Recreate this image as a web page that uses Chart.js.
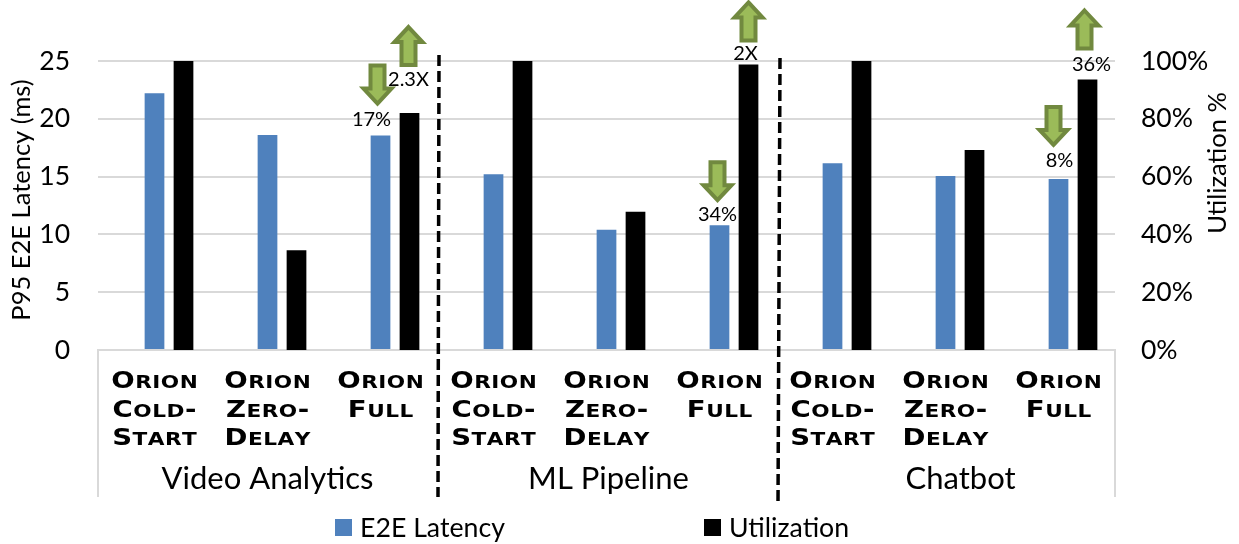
<!DOCTYPE html>
<html><head><meta charset="utf-8">
<style>html,body{margin:0;padding:0;background:#fff}#w{width:1239px;height:544px;position:relative}</style>
<script src="https://cdn.jsdelivr.net/npm/chart.js@4"></script></head>
<body><div id="w"><canvas id="c" width="1239" height="544"></canvas></div>
<script>
const categories=[["Orion","Cold-","Start"],["Orion","Zero-","Delay"],["Orion","Full"],["Orion","Cold-","Start"],["Orion","Zero-","Delay"],["Orion","Full"],["Orion","Cold-","Start"],["Orion","Zero-","Delay"],["Orion","Full"]];
const groups=["Video Analytics","ML Pipeline","Chatbot"];
const latency=[22.2,18.6,18.55,15.2,10.4,10.8,16.15,15.05,14.8];
const utilization=[100,34.5,82,100,47.8,98.8,100,69.2,93.6];
const spacer=[null,null,null,null,null,null,null,null,null];
const latencyNotes=[null,null,"17%",null,null,"34%",null,null,"8%"];
const utilizationNotes=[null,null,"2.3X",null,null,"2X",null,null,"36%"];
const BLUE='#4f81bd',BAR='#000000',GRID='#d9d9d9',TXT='#000000';
const P={l:98,r:1115,t:61,b:350};
const groupShift=[0,2,15];
// [label dx, label dy above bar, arrow dx, arrow tip dy above bar]
const latGeom={2:[-9,16,-3,30],5:[-2,11,-2,23],8:[1,18,-5,32]};
const utilGeom={2:[-1,33,-1,88],5:[-3,11,0,64],8:[4,15,-3,71]};
function arrow(ctx,x,tip,dir){ // dir 1 = points down; -1 = up
  const L=38,hw=14,sw=7,hh=15;
  tip-=dir*2;
  ctx.beginPath();
  ctx.moveTo(x,tip);
  ctx.lineTo(x+hw,tip-dir*hh);
  ctx.lineTo(x+sw,tip-dir*hh);
  ctx.lineTo(x+sw,tip-dir*L);
  ctx.lineTo(x-sw,tip-dir*L);
  ctx.lineTo(x-sw,tip-dir*hh);
  ctx.lineTo(x-hw,tip-dir*hh);
  ctx.closePath();
  ctx.fillStyle='#9bbb59';ctx.strokeStyle='#71893f';ctx.lineWidth=4;ctx.lineJoin='miter';
  ctx.fill();ctx.stroke();
}
function smallCaps(ctx,text,cx,cy){
  const big='bold 23px "DejaVu Sans"',small='bold 18px "DejaVu Sans"',sx=1.2,track=0.5;
  const runs=[...text].map(c=>{const low=c!==c.toUpperCase();return {c:c.toUpperCase(),f:low?small:big};});
  let w=0;runs.forEach(r=>{ctx.font=r.f;r.w=ctx.measureText(r.c).width*sx+track;w+=r.w;});
  let x=cx-(w-track)/2;
  ctx.textAlign='left';ctx.textBaseline='alphabetic';
  runs.forEach(r=>{ctx.save();ctx.translate(x,cy+8);ctx.scale(sx,1);ctx.font=r.f;ctx.fillText(r.c,0,0);ctx.restore();x+=r.w;});
}
const extras={id:'extras',afterDraw(ch){
  const ctx=ch.ctx,x=ch.scales.x,yL=ch.scales.y,yR=ch.scales.y2;
  ctx.save();
  const step=x.getPixelForValue(1)-x.getPixelForValue(0);
  const edge=i=>x.getPixelForValue(i)-step/2;
  ctx.strokeStyle=GRID;ctx.lineWidth=2;
  ctx.beginPath();ctx.moveTo(edge(0),yL.bottom);ctx.lineTo(edge(0),497);ctx.stroke();
  ctx.beginPath();ctx.moveTo(edge(9),yL.bottom);ctx.lineTo(edge(9),497);ctx.stroke();
  // category labels
  ctx.fillStyle=TXT;
  categories.forEach((lines,i)=>lines.forEach((t,j)=>smallCaps(ctx,t,x.getPixelForValue(i),380+j*28.5)));
  // group labels
  ctx.font='31px Lato';ctx.textAlign='center';ctx.textBaseline='middle';
  groups.forEach((g,i)=>ctx.fillText(g,x.getPixelForValue(i*3+1)+groupShift[i],479));
  // dashed separators
  ctx.strokeStyle='#000';ctx.lineWidth=3.5;ctx.setLineDash([11,5]);
  [[3,2,1,55,497],[6,4,2,58,505]].forEach(s=>{const px=edge(s[0]);ctx.beginPath();ctx.moveTo(px+s[1],s[3]);ctx.lineTo(px+s[2],s[4]);ctx.stroke();});
  ctx.setLineDash([]);
  // arrows and notes
  const m0=ch.getDatasetMeta(1),m1=ch.getDatasetMeta(2);
  latencyNotes.forEach((t,i)=>{ if(!t)return;const g=latGeom[i],b=m0.data[i];arrow(ctx,b.x+g[2],b.y-g[3],1);});
  utilizationNotes.forEach((t,i)=>{ if(!t)return;const g=utilGeom[i],b=m1.data[i];arrow(ctx,b.x+g[2],b.y-g[3],-1);});
  ctx.fillStyle=TXT;ctx.font='20px Lato';ctx.textAlign='center';ctx.textBaseline='middle';
  latencyNotes.forEach((t,i)=>{ if(!t)return;const g=latGeom[i],b=m0.data[i];ctx.fillText(t,b.x+g[0],b.y-g[1]);});
  utilizationNotes.forEach((t,i)=>{ if(!t)return;const g=utilGeom[i],b=m1.data[i];ctx.fillText(t,b.x+g[0],b.y-g[1]);});
  // axis titles
  ctx.font='25.5px Lato';
  [['P95 E2E Latency (ms)',22,200],['Utilization %',1218,163]].forEach(t=>{ctx.save();ctx.translate(t[1],t[2]);ctx.rotate(-Math.PI/2);ctx.fillText(t[0],0,0);ctx.restore();});
  // legend
  ctx.font='26.7px Lato';ctx.textAlign='left';
  ctx.fillStyle=BLUE;ctx.fillRect(335,519,17,17);
  ctx.fillStyle=TXT;ctx.fillText('E2E Latency',360,528);
  ctx.fillStyle=BAR;ctx.fillRect(704,519,17,17);
  ctx.fillStyle=TXT;ctx.fillText('Utilization',729,528);
  ctx.restore();
}};
new Chart(document.getElementById('c'),{type:'bar',
 data:{labels:categories,datasets:[
  {label:'',data:spacer,yAxisID:'y',backgroundColor:'rgba(0,0,0,0)'},
  {label:'E2E Latency',data:latency,yAxisID:'y',backgroundColor:BLUE},
  {label:'Utilization',data:utilization,yAxisID:'y2',backgroundColor:BAR}]},
 options:{responsive:false,animation:false,
  categoryPercentage:0.77,barPercentage:0.68,
  layout:{padding:{top:P.t,left:0,right:0,bottom:0}},
  plugins:{legend:{display:false},tooltip:{enabled:false}},
  scales:{
   x:{position:'bottom',grid:{display:false},border:{color:GRID,width:2},
      afterFit(s){s.height=544-P.b;},
      ticks:{display:false}},
   y:{position:'left',min:0,max:25,grid:{color:GRID,lineWidth:2,drawTicks:false},border:{display:false},
      afterFit(s){s.width=P.l;},
      ticks:{stepSize:5,color:TXT,padding:28,font:{family:'Lato',size:26.5}}},
   y2:{position:'right',min:0,max:100,grid:{display:false,drawTicks:false},border:{display:false},
      afterFit(s){s.width=1239-P.r;},
      ticks:{stepSize:20,color:TXT,padding:26,callback:v=>v+'%',font:{family:'Lato',size:26.5}}}
  }},
 plugins:[extras]});
</script></body></html>
